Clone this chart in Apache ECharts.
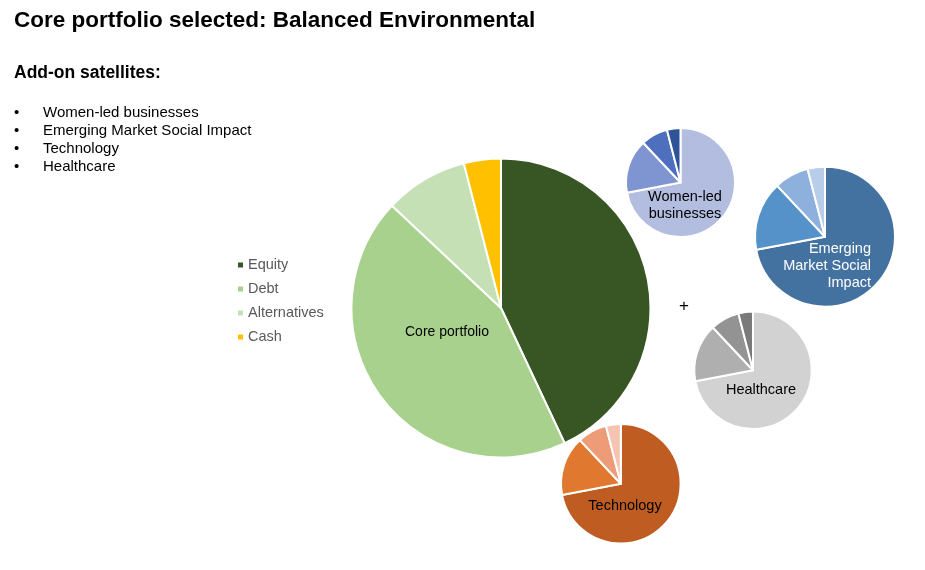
<!DOCTYPE html>
<html>
<head>
<meta charset="utf-8">
<script src="https://cdn.jsdelivr.net/npm/echarts@6/dist/echarts.min.js"></script>
<style>
html,body{margin:0;padding:0;background:#fff;}
#chart{width:925px;height:570px;}
</style>
</head>
<body>
<div id="chart"></div>
<script>
// ---- Data ----
var coreCategories = ['Equity', 'Debt', 'Alternatives', 'Cash'];
var coreValues = [43, 44, 9, 4];
var satelliteNames = ['Women-led businesses', 'Emerging Market Social Impact', 'Technology', 'Healthcare'];
var satelliteValues = [72, 16, 8, 4];
var titleText = 'Core portfolio selected: Balanced Environmental';
var subtitleText = 'Add-on satellites:';

// ---- Styles ----
var font = '"Liberation Sans", Arial, sans-serif';
var coreColors = ['#375623', '#A9D18E', '#C5E0B4', '#FFC000'];
var satColors = {
  'Women-led businesses': ['#B2BDE0', '#7F95D2', '#4D6FBE', '#2F5496'],
  'Emerging Market Social Impact': ['#4472A0', '#5592C9', '#8EB0DC', '#B8CDE9'],
  'Technology': ['#BE5C22', '#E07830', '#EE9B77', '#F4C3B1'],
  'Healthcare': ['#D2D2D2', '#AFAFAF', '#939393', '#7A7A7A']
};
var satGeom = {
  'Women-led businesses': {c: [680.5, 182.5], r: 54.5},
  'Emerging Market Social Impact': {c: [825, 236.7], r: 70},
  'Technology': {c: [620.8, 483.7], r: 59.8},
  'Healthcare': {c: [753, 370.3], r: 58.7}
};

var chart = echarts.init(document.getElementById('chart'), null, {renderer: 'canvas'});

var series = [];
series.push({
  type: 'pie',
  name: 'Core portfolio',
  center: [501, 308],
  radius: [0, 149.5],
  startAngle: 90,
  clockwise: true,
  silent: true,
  label: {show: false},
  labelLine: {show: false},
  itemStyle: {borderColor: '#fff', borderWidth: 2},
  data: coreCategories.map(function (n, i) {
    return {name: n, value: coreValues[i], itemStyle: {color: coreColors[i]}};
  })
});

satelliteNames.forEach(function (s) {
  var g = satGeom[s];
  series.push({
    type: 'pie',
    name: s,
    center: g.c,
    radius: [0, g.r],
    startAngle: 90,
    clockwise: true,
    silent: true,
    label: {show: false},
    labelLine: {show: false},
    itemStyle: {borderColor: '#fff', borderWidth: 2},
    data: satelliteValues.map(function (v, i) {
      return {name: s + ' ' + (i + 1), value: v, itemStyle: {color: satColors[s][i]}};
    })
  });
});

var graphics = [
  {type: 'text', left: 14, top: 9, z: 100, style: {text: titleText, font: 'bold 22.5px ' + font, fill: '#000'}},
  {type: 'text', left: 14, top: 64, z: 100, style: {text: subtitleText, font: 'bold 17.5px ' + font, fill: '#000'}}
];
satelliteNames.forEach(function (s, i) {
  var y = 105 + i * 18.2;
  graphics.push({type: 'text', left: 14, top: y, z: 100, style: {text: '\u2022', font: '15px ' + font, fill: '#000'}});
  graphics.push({type: 'text', left: 43, top: y, z: 100, style: {text: s, font: '15px ' + font, fill: '#000'}});
});
// pie labels
graphics.push({type: 'text', x: 447, y: 332, z: 100, style: {text: 'Core portfolio', font: '14px ' + font, fill: '#000', align: 'center', verticalAlign: 'middle'}});
graphics.push({type: 'text', x: 685, y: 205, z: 100, style: {text: 'Women-led\nbusinesses', font: '14.5px ' + font, fill: '#000', align: 'center', verticalAlign: 'middle', lineHeight: 17}});
graphics.push({type: 'text', x: 871, y: 266, z: 100, style: {text: 'Emerging\nMarket Social\nImpact', font: '14.5px ' + font, fill: '#fff', align: 'right', verticalAlign: 'middle', lineHeight: 17}});
graphics.push({type: 'text', x: 761, y: 390, z: 100, style: {text: 'Healthcare', font: '14.5px ' + font, fill: '#000', align: 'center', verticalAlign: 'middle'}});
graphics.push({type: 'text', x: 625, y: 506, z: 100, style: {text: 'Technology', font: '14.5px ' + font, fill: '#000', align: 'center', verticalAlign: 'middle'}});
graphics.push({type: 'text', x: 684, y: 306, z: 100, style: {text: '+', font: '17px ' + font, fill: '#000', align: 'center', verticalAlign: 'middle'}});

chart.setOption({
  backgroundColor: '#fff',
  animation: false,
  legend: {
    orient: 'vertical',
    left: 231,
    top: 252,
    itemWidth: 7,
    itemHeight: 7,
    itemGap: 8,
    icon: 'rect',
    selectedMode: false,
    data: coreCategories,
    textStyle: {fontFamily: font, fontSize: 14.5, color: '#595959', lineHeight: 16, padding: [0, 0, 0, -1]}
  },
  graphic: graphics,
  series: series
});
</script>
</body>
</html>
